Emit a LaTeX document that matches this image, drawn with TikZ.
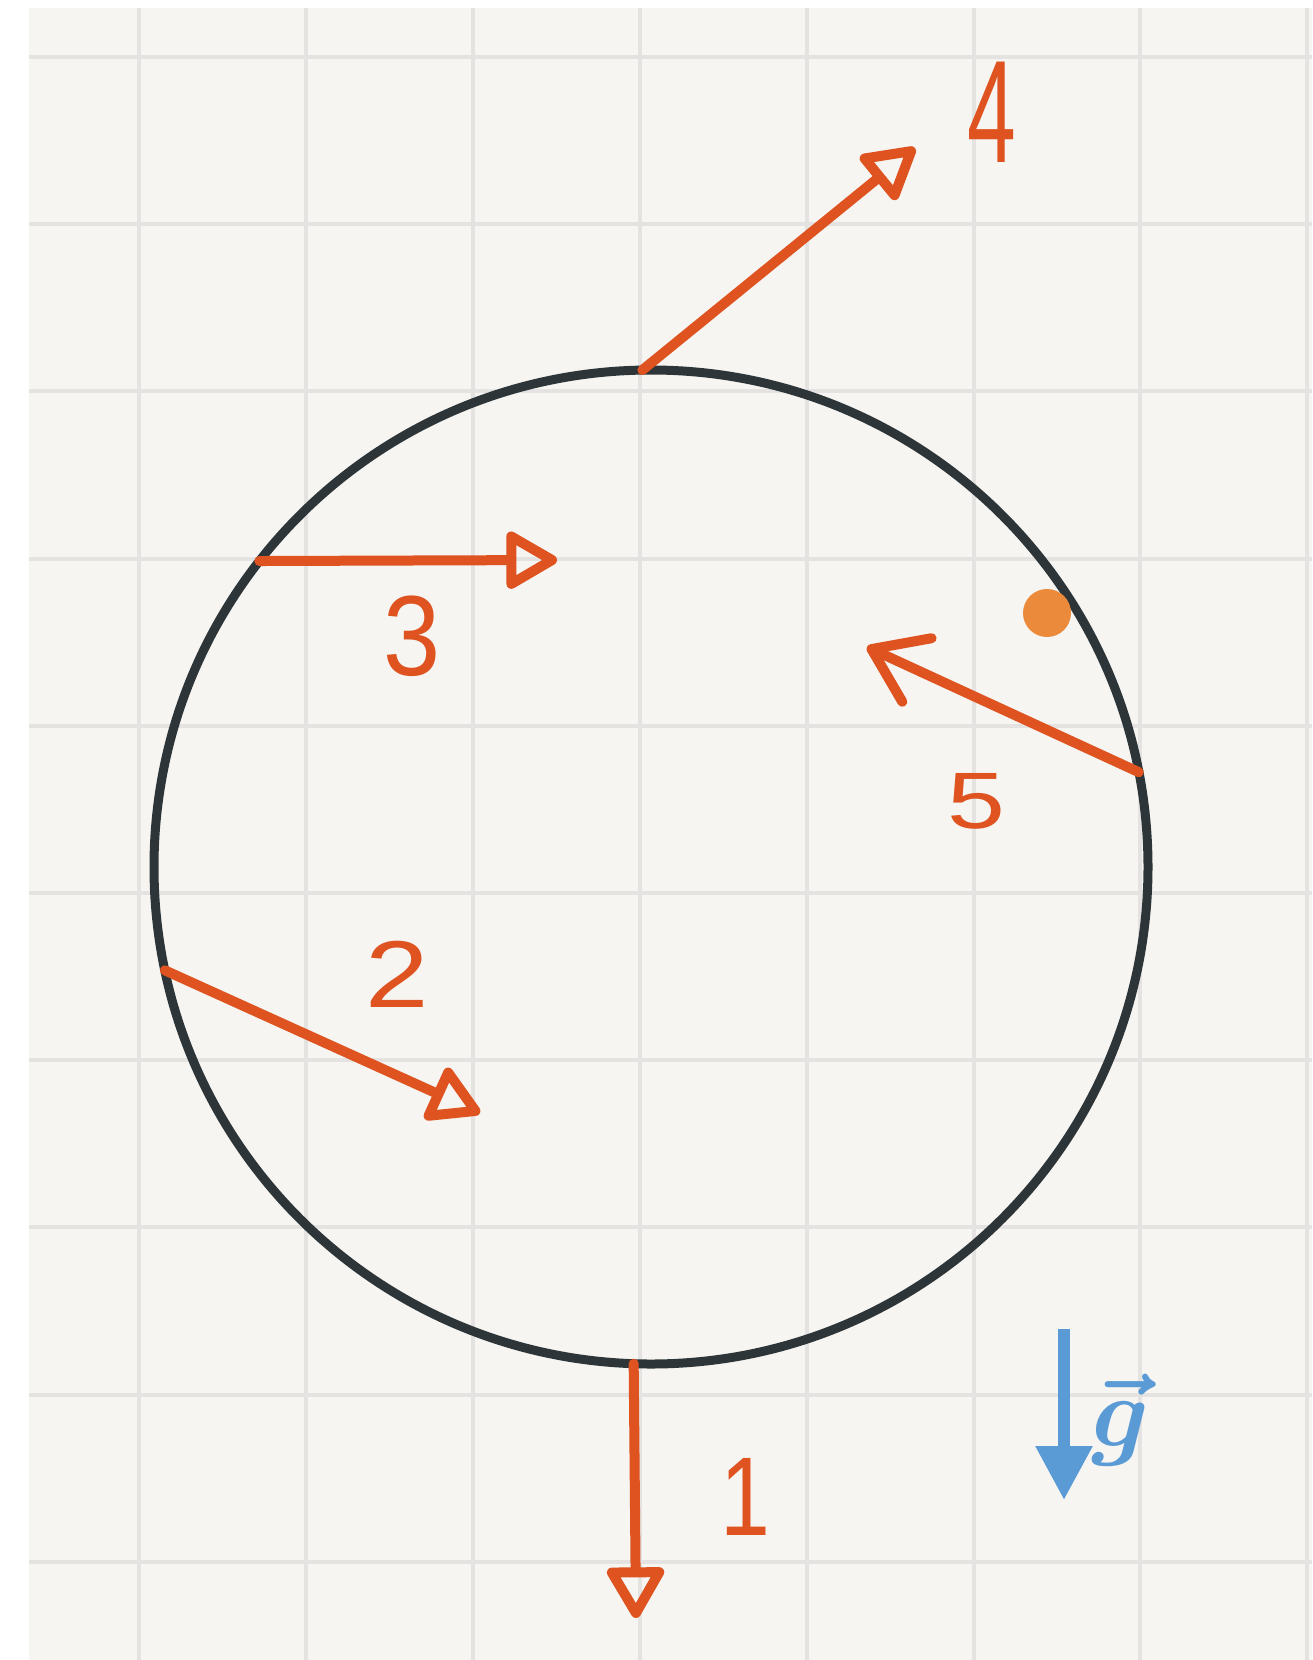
\RequirePackage{fix-cm}
\documentclass[tikz,border=0pt]{standalone}
\usepackage{fontspec}
\usepackage{xcolor}
\usepackage{tikz}
\usetikzlibrary{arrows.meta}

\newfontfamily\digitfont{Liberation Sans}
\definecolor{paper}{HTML}{F6F5F2}
\definecolor{gridgray}{HTML}{E4E3E2}
\definecolor{ringgray}{HTML}{2E3538}
\definecolor{forceorange}{HTML}{DE5320}
\definecolor{dotorange}{HTML}{EB8A3B}
\definecolor{gblue}{HTML}{5B9BD5}

\tikzset{
  gridline/.style={gridgray, line width=4pt},
  force/.style={forceorange, line width=10pt, line cap=round,
    -{Triangle[open, round, length=56pt, width=62pt]}},
  forcebarb/.style={forceorange, line width=10pt, line cap=round,
    -{Straight Barb[round, length=50pt, width=70pt]}},
  numlabel/.style={forceorange, inner sep=0pt}
}

\begin{document}
\begin{tikzpicture}[x=1pt, y=-1pt]
        \useasboundingbox (0,0) rectangle (1312,1660);
        % paper and grid
        \fill[paper] (29,8) rectangle (1312,1660);
        \foreach \gx in {0,...,7}
            \draw[gridline] ({139+166.9*\gx},8) -- ({139+166.9*\gx},1660);
        \foreach \gy in {0,...,9}
            \draw[gridline] (29,{57+167.2*\gy}) -- (1312,{57+167.2*\gy});

        % ring and ball
        \node[circle, draw=ringgray, line width=9pt, minimum size=994pt,
              inner sep=0pt, outer sep=0pt] (ring) at (651,867) {};
        \node[circle, fill=dotorange, minimum size=48pt, inner sep=0pt] (ball) at (1047,613) {};

        % arrow ends
        \coordinate (t1) at (636,1618);
        \coordinate (t2) at (480,1113);
        \coordinate (t3) at (557,560);
        \coordinate (t4) at (915,148);
        \coordinate (t5) at (867,647);

        % forces
        \draw[force] (ring.268.5) -- (t1);
        \draw[force] (ring.192) -- (t2);
        \draw[force] (ring.142) -- (t3);
        \draw[force] (ring.91) -- (t4);
        \draw[forcebarb] (ring.11) -- (t5);

        % numbers
        \node[numlabel, font=\digitfont\fontsize{112}{112}\selectfont] (lab1) at (745,1497) {\scalebox{0.8}[1]{1}};
        \node[numlabel, font=\digitfont\fontsize{95}{95}\selectfont] (lab2) at (397,974) {\scalebox{1.2}[1]{2}};
        \node[numlabel, font=\digitfont\fontsize{114}{114}\selectfont] (lab3) at (412,636) {\scalebox{0.9}[1]{3}};
        \node[numlabel, font=\digitfont\fontsize{146}{146}\selectfont] (lab4) at (992,112) {\scalebox{0.6}[1]{4}};
        \node[numlabel, font=\digitfont\fontsize{80}{80}\selectfont] (lab5) at (976,801) {\scalebox{1.3}[1]{5}};

        % gravity
        \coordinate (gtop) at (1064,1329);
        \coordinate (gtip) at (1064,1500);
        \draw[gblue, line width=12pt, -{Triangle[length=54pt, width=54pt]}] (gtop) -- (gtip);
        \node[gblue, anchor=base, inner sep=0pt, font=\fontsize{100}{100}\selectfont\boldmath] (glabel) at (1120,1446) {$\vec{g}$};
    \end{tikzpicture}
\end{document}
